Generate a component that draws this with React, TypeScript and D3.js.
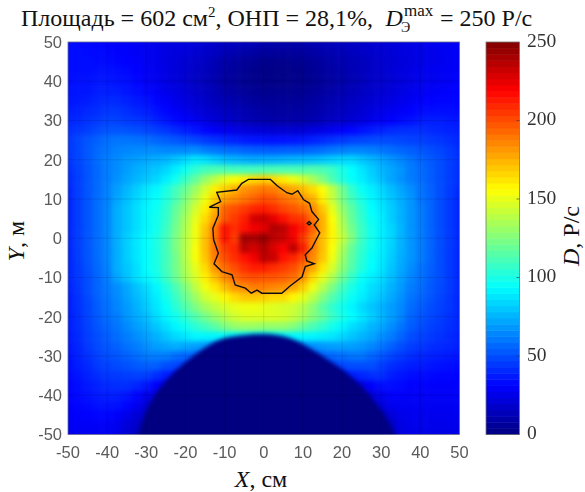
import React from "react";
import * as d3 from "d3";

// dose rate, P/s on a 2.5 cm grid, rows from Y = 50 down to Y = -50
const xCells = d3.range(-50, 50.01, 2.5);
const yCells = d3.range(50, -50.01, -2.5);
const doseRows = [
  [34,33,33,32,31, 30,30,29,28,26, 25,24,23,22,20, 18,17,16,15,14, 12, 11,11,11,12,13, 14,15,16,17,18, 20,21,22,23,25, 26,27,28,29,30],
  [34,34,33,33,32, 31,30,29,28,26, 24,23,22,20,18, 16,14,12,10,9, 7, 7,7,7,8,9, 11,12,14,15,17, 18,20,21,23,24, 25,26,27,28,29],
  [34,34,34,33,33, 32,31,30,28,26, 24,22,20,18,16, 13,10,8,6,5, 3, 3,3,4,5,6, 8,10,12,13,15, 17,19,20,22,23, 25,26,27,28,29],
  [34,34,34,35,35, 34,33,31,29,27, 24,22,20,17,15, 12,9,7,5,3, 2, 2,2,3,3,5, 7,9,11,13,15, 17,19,21,23,25, 26,27,28,29,29],
  [34,35,35,36,36, 35,34,32,29,27, 24,22,19,16,14, 11,8,6,4,3, 2, 2,2,3,3,4, 6,8,10,12,14, 17,18,20,22,24, 26,27,28,29,30],
  [35,36,36,38,38, 38,36,34,32,29, 26,24,21,18,16, 13,10,8,6,5, 4, 4,4,4,5,6, 8,10,12,14,16, 18,20,22,24,26, 28,29,30,31,31],
  [36,37,38,40,41, 41,39,37,35,32, 29,26,23,20,18, 15,13,11,9,7, 6, 6,6,6,7,8, 10,12,14,16,18, 20,22,24,26,28, 30,31,32,32,32],
  [38,39,41,42,44, 44,42,40,38,35, 32,29,26,23,20, 18,16,14,12,10, 9, 8,8,8,9,10, 12,14,16,18,20, 23,25,27,29,31, 33,34,34,34,33],
  [40,41,43,45,47, 47,45,44,42,39, 36,33,30,27,24, 21,18,16,14,12, 11, 10,10,10,11,12, 14,16,18,20,23, 26,28,31,33,35, 37,38,38,37,36],
  [42,44,46,49,51, 52,51,50,48,46, 44,41,38,35,32, 29,27,25,23,22, 21, 20,20,20,21,23, 25,27,30,32,35, 37,39,41,42,42, 42,41,40,39,38],
  [44,48,52,55,58, 60,60,59,58,56, 54,52,50,48,45, 43,41,39,37,36, 36, 35,35,36,37,39, 41,43,45,47,48, 49,49,49,48,47, 46,45,44,42,40],
  [44,48,53,57,60, 63,64,65,65,65, 64,64,64,65,62, 60,58,57,55,54, 54, 53,54,54,55,56, 58,60,62,63,63, 62,60,58,56,54, 52,50,48,45,42],
  [44,48,53,58,62, 65,68,70,72,74, 76,80,84,88,86, 82,78,76,74,73, 74, 74,75,76,77,78, 80,82,84,84,80, 76,72,68,64,60, 56,53,50,46,43],
  [42,47,52,57,62, 66,70,74,77,80, 84,90,98,105,110, 112,112,110,110,110, 112, 112,112,112,112,114, 112,108,100,94,88, 82,76,72,68,62, 58,54,50,46,42],
  [41,46,52,57,62, 67,72,76,80,84, 90,98,108,118,130, 140,150,155,160,165, 168, 165,160,152,145,135, 125,112,102,95,90, 84,78,72,67,62, 58,54,50,46,42],
  [40,46,52,57,63, 70,76,82,88,92, 100,110,120,132,145, 160,168,175,183,186, 190, 188,182,178,172,165, 155,140,122,106,96, 90,84,78,72,66, 60,55,50,45,41],
  [40,46,52,58,63, 72,78,84,90,95, 102,112,125,138,152, 168,180,185,190,195, 200, 198,192,188,182,175, 160,142,124,110,100, 92,86,80,74,68, 60,56,50,45,40],
  [40,46,52,58,64, 74,80,86,92,97, 105,118,130,145,160, 175,195,200,205,210, 212, 208,202,198,192,185, 170,150,130,116,104, 94,88,82,75,68, 62,56,50,45,40],
  [40,46,52,58,64, 74,80,86,92,98, 106,120,134,150,165, 180,198,205,212,230, 232, 225,215,208,205,190, 175,155,135,118,106, 96,90,82,75,68, 62,56,50,45,40],
  [40,46,52,58,64, 74,80,86,92,98, 108,122,136,152,170, 190,215,208,215,222, 225, 238,235,222,212,195, 175,158,138,122,108, 98,90,84,76,68, 62,56,50,45,40],
  [40,46,52,58,64, 74,82,88,94,100, 110,124,138,152,172, 190,215,205,242,240, 245, 235,232,222,205,188, 172,158,142,125,108, 98,90,84,75,68, 62,56,50,45,40],
  [40,46,52,58,64, 74,82,88,94,100, 110,124,138,154,172, 190,205,210,235,230, 238, 228,220,235,212,188, 172,155,136,118,106, 97,90,83,75,68, 62,56,50,45,40],
  [40,46,52,58,64, 74,82,88,94,100, 110,122,138,154,170, 188,200,208,215,222, 235, 232,215,210,200,185, 170,152,132,116,104, 95,89,82,74,68, 62,56,50,45,40],
  [40,45,51,57,63, 74,80,86,94,100, 110,122,136,150,165, 182,192,200,208,212, 212, 208,205,200,190,178, 162,146,128,114,102, 94,88,80,73,66, 60,55,50,45,40],
  [40,45,50,56,62, 72,79,86,92,98, 108,120,134,146,160, 172,185,192,198,200, 198, 198,196,192,182,165, 150,136,120,107,96, 90,85,78,71,64, 59,54,50,45,40],
  [39,44,50,56,61, 66,72,79,85,92, 101,112,125,140,152, 162,172,182,185,188, 188, 186,184,178,168,152, 138,124,110,100,92, 86,82,75,69,62, 58,53,49,45,40],
  [38,43,49,55,60, 65,71,77,83,90, 98,108,120,132,144, 150,158,165,170,170, 168, 165,165,158,150,140, 126,114,104,96,90, 84,79,73,67,60, 56,52,48,44,40],
  [38,43,48,54,59, 64,69,75,81,88, 95,104,114,124,134, 140,146,150,152,152, 150, 148,146,144,138,128, 116,106,98,92,85, 80,75,70,65,58, 54,50,47,44,40],
  [38,42,48,53,58, 62,68,73,78,85, 92,98,106,114,122, 130,138,144,148,148, 148, 148,146,142,135,126, 118,108,100,94,88, 82,76,70,64,56, 52,49,46,43,40],
  [38,42,47,52,56, 60,65,70,74,80, 86,92,98,104,110, 116,124,130,132,132, 130, 130,130,126,118,112, 106,98,92,86,82, 76,72,66,60,54, 50,47,45,42,40],
  [37,41,46,50,54, 58,62,66,70,75, 80,85,88,92,92, 92,92,92,92,92, 92, 92,92,92,92,92, 90,88,84,80,76, 72,66,62,56,50, 47,45,43,41,39],
  [36,40,45,49,52, 55,59,62,66,70, 72,74,72,70,68, 66,66,66,66,66, 66, 66,66,66,66,66, 68,70,70,70,68, 64,60,55,50,46, 44,42,41,40,38],
  [35,39,43,47,50, 52,55,58,61,62, 62,58,56,55,55, 55,55,55,55,55, 55, 55,55,55,55,55, 55,56,58,60,60, 56,52,48,45,42, 40,39,38,37,36],
  [34,38,41,45,47, 49,51,53,54,54, 50,48,48,48,48, 48,48,48,48,48, 48, 48,48,48,48,48, 48,48,48,50,50, 50,46,42,40,38, 37,36,35,34,33],
  [33,36,39,42,44, 45,46,47,46,42, 38,36,36,36,36, 36,36,36,36,36, 36, 36,36,36,36,36, 36,36,36,38,40, 42,42,38,36,34, 33,33,32,32,31],
  [32,34,37,39,41, 42,42,40,36,30, 24,24,24,24,24, 24,24,24,24,24, 24, 24,24,24,24,24, 24,24,24,24,24, 30,34,34,33,31, 31,30,30,30,30],
  [31,33,35,37,38, 38,36,32,26,22, 20,20,20,20,20, 20,20,20,20,20, 20, 20,20,20,20,20, 20,20,20,20,20, 22,26,30,30,29, 29,29,29,29,29],
  [30,32,33,35,35, 35,32,27,22,18, 18,18,18,18,18, 18,18,18,18,18, 18, 18,18,18,18,18, 18,18,18,18,18, 18,22,27,28,28, 28,28,28,28,28],
  [29,30,31,32,32, 30,26,21,18,16, 16,16,16,16,16, 16,16,16,16,16, 16, 16,16,16,16,16, 16,16,16,16,16, 16,16,21,26,27, 27,27,27,27,27],
  [28,29,29,29,29, 27,22,18,15,15, 15,15,15,15,15, 15,15,15,15,15, 15, 15,15,15,15,15, 15,15,15,15,15, 15,15,18,24,26, 26,26,26,26,26],
  [27,27,28,28,28, 25,20,16,14,14, 14,14,14,14,14, 14,14,14,14,14, 14, 14,14,14,14,14, 14,14,14,14,14, 14,14,17,23,25, 25,25,25,25,25],
];

// outline of the zero-dose shadow at the bottom, [X, Y] in cm
const shadowEdge = [
  [-37,-70],[-33,-54],[-32,-50],[-29,-42],[-24.7,-36],[-18.7,-30.5],[-11.5,-26],[-6,-24.8],[-1,-24.4],[4,-24.8],[8,-26],
  [15,-30],[21.8,-34.8],[27.7,-40.8],[33.3,-49.5],[34,-54],[36,-70],
];
const shadowDose = 0;

// isodose line, [X, Y] in cm
const contourLine = [
  [-3.9,15],[1.7,15],[3.5,13.3],[5.9,11.6],[7.2,11.2],[8.7,12.1],[10.2,9.8],[11.7,8.9],[12.3,6.8],[14,4.8],
  [12.9,3.4],[14.3,1.4],[12.3,-2.5],[10.6,-4.2],[11,-5.8],[12.9,-6.5],[10.6,-7.2],[9.8,-9.8],[6.8,-12.1],[4.6,-14],
  [-0.5,-14],[-1.7,-13.2],[-3.2,-14],[-4.7,-12.7],[-7.3,-11.9],[-8.1,-9.3],[-10.7,-8.5],[-12.7,-6.5],[-11.6,-3.8],[-12.8,-0.4],
  [-13,2.5],[-11.6,5.9],[-11.6,7.8],[-13.9,7.9],[-11,9.3],[-12,11.7],[-6.9,12.3],[-5.6,14],
];
const contourIsland = [[11.1,3.8],[11.6,4.3],[12.1,3.8],[11.6,3.4]];

const axisTicks = [-50,-40,-30,-20,-10,0,10,20,30,40,50];
const colorTicks = [0,50,100,150,200,250];
const jetStops = ["#000080","#0000ff","#00ffff","#ffff00","#ff0000","#800000"];
const jetDomain = [0,31,94,156,219,250];

const width = 585;
const height = 492;
const plot = { left: 68, right: 459.5, top: 42, bottom: 434.5 };
const bar = { left: 486, right: 519.5 };

const x = d3.scaleLinear().domain([-50,50]).range([plot.left,plot.right]);
const y = d3.scaleLinear().domain([-50,50]).range([plot.bottom,plot.top]);
const c = d3.scaleLinear().domain([0,250]).range([plot.bottom,plot.top]);
const jet = d3.scaleLinear<string>().domain(jetDomain).range(jetStops).clamp(true);

const line = d3.line().x(d => x(d[0])).y(d => y(d[1])).curve(d3.curveLinearClosed);
const shadowPath = d3.line().x(d => x(d[0])).y(d => y(d[1])).curve(d3.curveCatmullRomClosed);

const serif = "'Liberation Serif','Times New Roman',serif";
const sans = "'Liberation Sans',Arial,sans-serif";
const tickGray = "#5a5a5a";

export default function App() {
  const cw = x(2.5) - x(0);
  const ch = y(0) - y(2.5);
  const levels = d3.range(64);
  return (
    <svg width={width} height={height} style={{ position: "absolute", left: 0, top: 0, background: "#fff" }}>
      <defs>
        <clipPath id="plotClip">
          <rect x={plot.left} y={plot.top} width={plot.right - plot.left} height={plot.bottom - plot.top} />
        </clipPath>
        <filter id="soften" filterUnits="userSpaceOnUse" x={30} y={0} width={470} height={480} colorInterpolationFilters="sRGB">
          <feGaussianBlur stdDeviation={2.4} />
        </filter>
        <filter id="softenEdge" filterUnits="userSpaceOnUse" x={30} y={0} width={470} height={492} colorInterpolationFilters="sRGB">
          <feGaussianBlur stdDeviation={2.2} />
        </filter>
        <filter id="soft" x="-10%" y="-10%" width="120%" height="120%">
          <feGaussianBlur stdDeviation={0.35} />
        </filter>
      </defs>

      <g clipPath="url(#plotClip)">
        <g filter="url(#soften)">
          {doseRows.map((row, r) =>
            row.map((v, i) => {
              // outer cells run past the frame so the blur does not fade at the edge
              const x0 = x(xCells[i]) - cw / 2 - (i === 0 ? 14 : 0);
              const x1 = x(xCells[i]) + cw / 2 + (i === row.length - 1 ? 14 : 0);
              const y0 = y(yCells[r]) - ch / 2 - (r === 0 ? 14 : 0);
              const y1 = y(yCells[r]) + ch / 2 + (r === doseRows.length - 1 ? 14 : 0);
              return <rect key={r + "-" + i} x={x0} y={y0} width={x1 - x0 + 0.5} height={y1 - y0 + 0.5} fill={jet(v)} />;
            })
          )}
        </g>
        <path d={shadowPath(shadowEdge as any) as string} fill={jet(shadowDose)} filter="url(#softenEdge)" />
        {axisTicks.slice(1, -1).map(t => (
          <g key={t} stroke="#000" strokeOpacity={0.1} strokeWidth={1}>
            <line x1={x(t)} x2={x(t)} y1={plot.top} y2={plot.bottom} />
            <line x1={plot.left} x2={plot.right} y1={y(t)} y2={y(t)} />
          </g>
        ))}
        <g fill="none" stroke="#111" strokeWidth={1.4} filter="url(#soft)">
          <path d={line(contourLine as any) as string} />
          <path d={line(contourIsland as any) as string} />
        </g>
      </g>
      <rect x={plot.left} y={plot.top} width={plot.right - plot.left} height={plot.bottom - plot.top} fill="none" stroke="#6a6a8a" strokeWidth={0.8} />

      {levels.map(l => {
        const v0 = (l / 64) * 250;
        const v1 = ((l + 1) / 64) * 250;
        return <rect key={l} x={bar.left} width={bar.right - bar.left} y={c(v1)} height={c(v0) - c(v1) + 0.5} fill={jet((v0 + v1) / 2)} />;
      })}
      <rect x={bar.left} y={plot.top} width={bar.right - bar.left} height={plot.bottom - plot.top} fill="none" stroke="#777" strokeWidth={0.8} />
      {colorTicks.slice(1, -1).map(t => (
        <line key={t} x1={bar.right - 3} x2={bar.right} y1={c(t)} y2={c(t)} stroke="#333" strokeOpacity={0.6} />
      ))}

      <g filter="url(#soft)" fontFamily={sans} fontSize={16.5} fill={tickGray}>
        {axisTicks.map(t => (
          <text key={t} x={x(t)} y={458} textAnchor="middle">{t}</text>
        ))}
        {axisTicks.map(t => (
          <text key={t} x={62} y={y(t)} dy="0.35em" textAnchor="end">{t}</text>
        ))}
      </g>
      <g filter="url(#soft)" fontFamily={serif} fontSize={19.5} fill="#333">
        {colorTicks.map(t => (
          <text key={t} x={527} y={c(t) - 2} dy="0.35em">{t}</text>
        ))}
      </g>

      <g fontFamily={serif} fill="#111" fontSize={24}>
        <text y={26} xmlSpace="preserve">
          <tspan x={21}>Площадь = 602 см</tspan>
          <tspan dy={-9} fontSize={15}>2</tspan>
          <tspan dy={9}>, ОНП = 28,1%,</tspan>
          <tspan x={385.5} fontStyle="italic">D</tspan>
          <tspan x={401} dy={6} fontSize={14}>Э</tspan>
          <tspan x={404} dy={-16} fontSize={17}>max</tspan>
          <tspan x={440} dy={10}>= 250 Р/с</tspan>
        </text>
        <text x={261} y={487} textAnchor="middle"><tspan fontStyle="italic">X</tspan>, см</text>
        <text transform="translate(24,241) rotate(-90)" textAnchor="middle"><tspan fontStyle="italic">Y</tspan>, м</text>
        <text transform="translate(579,236) rotate(-90)" textAnchor="middle"><tspan fontStyle="italic">D</tspan>, Р/с</text>
      </g>
    </svg>
  );
}
